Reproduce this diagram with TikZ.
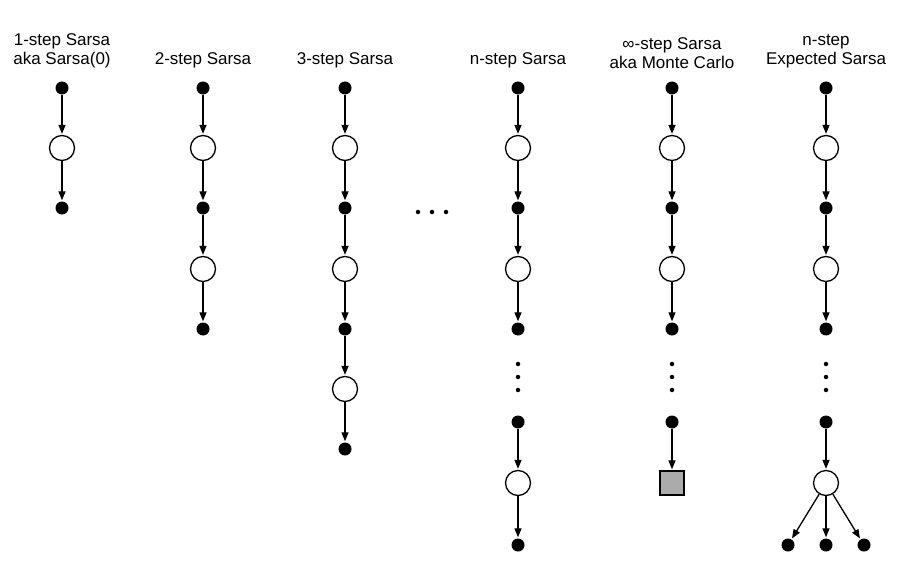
\documentclass[tikz,border=0pt]{standalone}
\usepackage{fontspec}
\setmainfont{Liberation Sans}
\usetikzlibrary{arrows.meta}
\begin{document}
\begin{tikzpicture}[x=1pt,y=-1pt,
  st/.style={circle,fill=black,inner sep=0,minimum size=13pt},
  ac/.style={circle,draw=black,fill=white,line width=1.3pt,inner sep=0,minimum size=25pt},
  term/.style={rectangle,draw=black,fill=black!33,line width=1.3pt,inner sep=0,minimum size=24pt},
  ed/.style={-{Triangle[length=9pt,width=7pt]},line width=1.3pt,shorten >=1pt},
  vd/.style={circle,fill=black,inner sep=0,minimum size=4.5pt},
  ttl/.style={align=center,font=\fontsize{17}{19}\selectfont}]
\useasboundingbox (0,0) rectangle (904,564);
% titles
\node[ttl,anchor=south] (t1) at (62,72) {1-step Sarsa\\aka Sarsa(0)};
\node[ttl,anchor=south] (t2) at (203,72) {2-step Sarsa};
\node[ttl,anchor=south] (t3) at (345,72) {3-step Sarsa};
\node[ttl,anchor=south] (t4) at (518,72) {n-step Sarsa};
\node[ttl,anchor=south] (t5) at (672,72) {∞-step Sarsa\\aka Monte Carlo};
\node[ttl,anchor=south] (t6) at (826,72) {n-step\\Expected Sarsa};
% column 1
\node[st] (a1) at (62,88) {}; \node[ac] (a2) at (62,148) {}; \node[st] (a3) at (62,208) {};
\draw[ed] (a1)--(a2); \draw[ed] (a2)--(a3);
% column 2
\foreach \i/\y/\s in {1/88/st,2/148/ac,3/208/st,4/269/ac,5/329/st}{\node[\s] (b\i) at (203,\y) {};}
\foreach \i/\j in {1/2,2/3,3/4,4/5}{\draw[ed] (b\i)--(b\j);}
% column 3
\foreach \i/\y/\s in {1/88/st,2/148/ac,3/208/st,4/269/ac,5/329/st,6/389/ac,7/449/st}{\node[\s] (c\i) at (345,\y) {};}
\foreach \i/\j in {1/2,2/3,3/4,4/5,5/6,6/7}{\draw[ed] (c\i)--(c\j);}
% ellipsis
\foreach \k/\x in {1/418,2/432,3/446}{\node[vd] (h\k) at (\x,212) {};}
% columns 4-6 common top
\foreach \c/\x in {d/518,e/672,f/826}{
  \foreach \i/\y/\s in {1/88/st,2/148/ac,3/208/st,4/269/ac,5/329/st,7/422/st}{\node[\s] (\c\i) at (\x,\y) {};}
  \foreach \i/\j in {1/2,2/3,3/4,4/5}{\draw[ed] (\c\i)--(\c\j);}
  \foreach \k/\y in {1/364,2/377,3/390}{\node[vd] (\c v\k) at (\x,\y) {};}
}
\node[ac] (d8) at (518,483) {}; \node[st] (d9) at (518,545) {};
\draw[ed] (d7)--(d8); \draw[ed] (d8)--(d9);
\node[term] (e8) at (672,483) {};
\draw[ed] (e7)--(e8);
\node[ac] (f8) at (826,483) {};
\draw[ed] (f7)--(f8);
\node[st] (fl) at (788,545) {}; \node[st] (fm) at (826,545) {}; \node[st] (fr) at (864,545) {};
\draw[ed] (f8)--(fl); \draw[ed] (f8)--(fm); \draw[ed] (f8)--(fr);
\end{tikzpicture}
\end{document}
